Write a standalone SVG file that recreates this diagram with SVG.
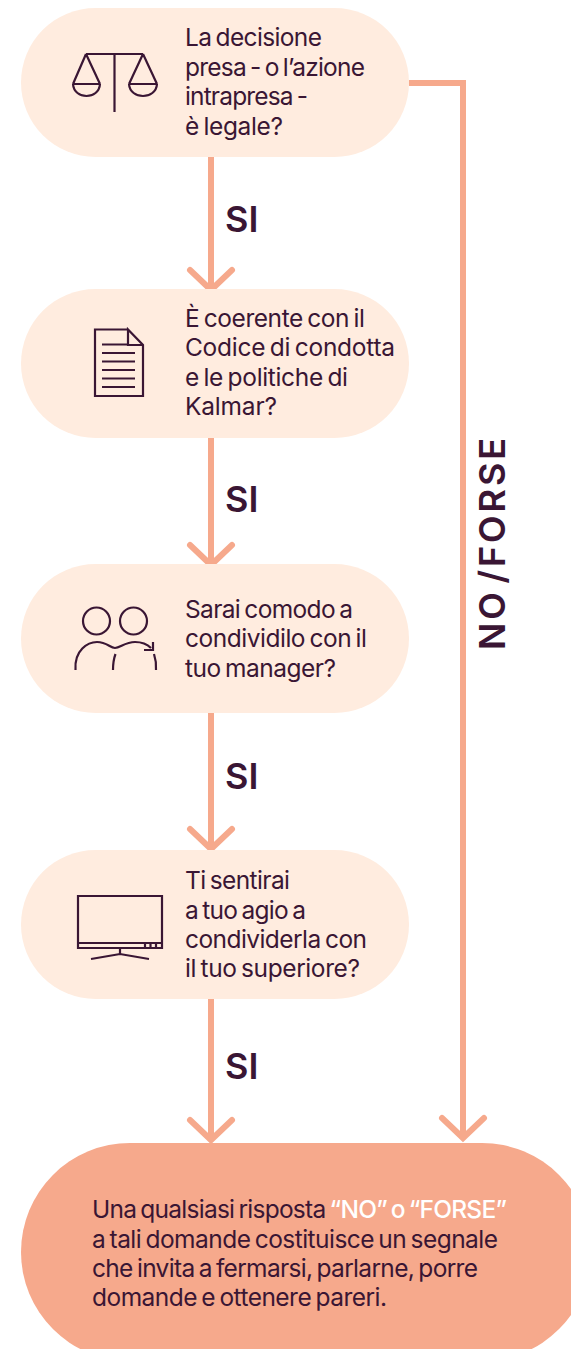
<svg xmlns="http://www.w3.org/2000/svg" width="571" height="1349" viewBox="0 0 571 1349">
<style>
.node{fill:#FFECDF}
.t{font-family:Inter,"Liberation Sans",sans-serif;font-size:24.5px;word-spacing:-2px;fill:#3A1634}
.lab{font-family:Inter,"Liberation Sans",sans-serif;font-size:36px;font-weight:600;word-spacing:-6px;fill:#3A1634}
.c{fill:none;stroke:#F6A98C;stroke-width:6}
.h{fill:none;stroke:#F6A98C;stroke-width:6;stroke-linecap:round;stroke-linejoin:miter}
.i{fill:none;stroke:#3A1634;stroke-width:2.2}
</style>
<rect width="571" height="1349" fill="#fff"/>
<g id="connectors">
<path class="c" d="M211 157V288"/><path class="h" d="M190 270L211 290L232 270"/>
<path class="c" d="M211 438V563"/><path class="h" d="M190 545L211 565L232 545"/>
<path class="c" d="M211 713V849"/><path class="h" d="M190 829L211 849L232 829"/>
<path class="c" d="M211 999V1141"/><path class="h" d="M190 1120L211 1140L232 1120"/>
<path class="c" d="M409 83H463V1137"/><path class="h" d="M442 1118L463 1138L484 1118"/>
</g>
<g id="node1"><rect class="node" x="21" y="8" width="388" height="149" rx="74.500"/>
<path class="i" d="M86 54H143M114.500 54V112M86 54L73 84M86 54L100 84M143 54L129 84M143 54L157 84M73 84H100M129 84H157M73 84C74 100 99 100 100 84M129 84C130 100 156 100 157 84"/>
<text class="t" x="185" y="46" textLength="137">La decisione</text><text class="t" x="185" y="75.500" textLength="180">presa - o l’azione</text><text class="t" x="185" y="105" textLength="123">intrapresa -</text><text class="t" x="185" y="135" textLength="98">è legale?</text></g>
<g id="node2"><rect class="node" x="21" y="289" width="388" height="149" rx="74.500"/>
<path class="i" d="M128 329.500H95V396H143V345L128 329.500V345H143M102 344.500H128M102 353H135M102 361.500H135M102 370H135M102 378.500H135M102 387H135"/>
<text class="t" x="185" y="327" textLength="180">È coerente con il</text><text class="t" x="185" y="356" textLength="210">Codice di condotta</text><text class="t" x="185" y="386" textLength="163">e le politiche di</text><text class="t" x="185" y="415" textLength="92">Kalmar?</text></g>
<g id="node3"><rect class="node" x="21" y="564" width="388" height="149" rx="74.500"/>
<g class="i"><circle cx="96.500" cy="621" r="13.500"/><circle cx="133.500" cy="621" r="13.500"/>
<path d="M75.500 670C74 650 88 642 97 642C107 642 110 648 115 648C120 648 125 642 135 642C141 642 147 644 151 648M153 642V650H144M113 670C113 662 114 658 115.500 654M156 670C156.500 662 155 657 154 654"/></g>
<text class="t" x="185" y="618" textLength="168">Sarai comodo a</text><text class="t" x="185" y="647" textLength="182">condividilo con il</text><text class="t" x="185" y="677" textLength="151">tuo manager?</text></g>
<g id="node4"><rect class="node" x="21" y="850" width="388" height="149" rx="74.500"/>
<path class="i" d="M78 896H162V948H78ZM78 943H162M145 943V948M150.500 943V948M156 943V948M120 948V954M91 959L120 954L149 959"/>
<text class="t" x="185" y="889" textLength="105">Ti sentirai</text><text class="t" x="185" y="919" textLength="121">a tuo agio a</text><text class="t" x="185" y="948" textLength="182">condividerla con</text><text class="t" x="185" y="977" textLength="175">il tuo superiore?</text></g>
<g id="node5"><rect x="21" y="1143" width="570" height="218" rx="109" fill="#F6A98C"/>
<text class="t" x="92" y="1218" textLength="415">Una qualsiasi risposta <tspan fill="#fff" font-weight="500">“NO” o “FORSE”</tspan></text><text class="t" x="92" y="1248" textLength="406">a tali domande costituisce un segnale</text><text class="t" x="92" y="1277" textLength="386">che invita a fermarsi, parlarne, porre</text><text class="t" x="92" y="1306" textLength="295">domande e ottenere pareri.</text></g>
<g id="labels">
<text class="lab" x="225" y="232">SI</text><text class="lab" x="225" y="512">SI</text><text class="lab" x="225" y="789">SI</text><text class="lab" x="225" y="1079">SI</text>
<text class="lab" transform="translate(505 650) rotate(-90)" textLength="212">NO /FORSE</text>
</g>
</svg>
